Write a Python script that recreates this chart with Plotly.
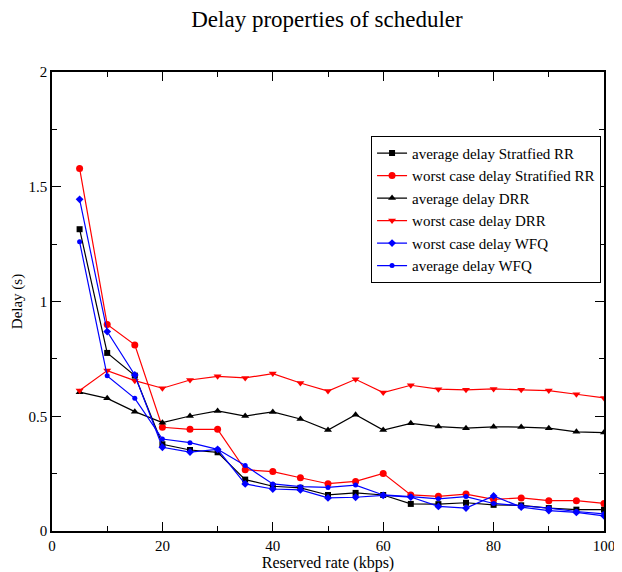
import plotly.graph_objects as go

rate = [5, 10, 15, 20, 25, 30, 35, 40, 45, 50, 55, 60, 65, 70, 75, 80, 85, 90, 95, 100]

avg_srr = [1.315, 0.776, 0.677, 0.378, 0.353, 0.343, 0.224, 0.195, 0.188, 0.157, 0.166, 0.157,
           0.118, 0.117, 0.123, 0.114, 0.112, 0.100, 0.093, 0.093]
worst_srr = [1.58, 0.90, 0.811, 0.452, 0.443, 0.443, 0.267, 0.259, 0.232, 0.206, 0.216, 0.251,
             0.157, 0.151, 0.161, 0.138, 0.144, 0.132, 0.132, 0.120]
avg_drr = [0.605, 0.578, 0.520, 0.472, 0.501, 0.523, 0.501, 0.519, 0.488, 0.440, 0.507, 0.440,
           0.469, 0.455, 0.448, 0.454, 0.453, 0.448, 0.432, 0.429]
worst_drr = [0.612, 0.699, 0.655, 0.622, 0.658, 0.674, 0.667, 0.686, 0.645, 0.610, 0.661, 0.603,
             0.635, 0.618, 0.615, 0.619, 0.615, 0.612, 0.596, 0.580]
worst_wfq = [1.445, 0.869, 0.680, 0.365, 0.344, 0.356, 0.205, 0.183, 0.179, 0.144, 0.147, 0.155,
             0.148, 0.107, 0.100, 0.153, 0.104, 0.089, 0.081, 0.066]
avg_wfq = [1.26, 0.676, 0.578, 0.401, 0.385, 0.356, 0.285, 0.205, 0.193, 0.190, 0.200, 0.157,
           0.150, 0.140, 0.150, 0.120, 0.110, 0.100, 0.085, 0.075]

names = ["average delay Stratfied RR", "worst case delay Stratified RR", "average delay DRR",
         "worst case delay DRR", "worst case delay WFQ", "average delay WFQ"]

series = [avg_srr, worst_srr, avg_drr, worst_drr, worst_wfq, avg_wfq]
colors = ["black", "red", "black", "red", "blue", "blue"]
symbols = ["square", "circle", "triangle-up", "triangle-down", "diamond", "circle"]
sizes = [6, 7, 7, 7, 6, 5]

fig = go.Figure()
for name, ys, c, s, sz in zip(names, series, colors, symbols, sizes):
    fig.add_trace(go.Scatter(
        x=rate, y=ys, mode="lines+markers", name=name,
        line=dict(color=c, width=1.2),
        marker=dict(color=c, symbol=s, size=sz, line=dict(width=0)),
    ))

serif = "Liberation Serif, Times New Roman, serif"

# the page body has an 8px margin, so the figure is drawn 8px in from the corner
fig.update_layout(
    width=614, height=564,
    margin=dict(l=44, r=18, t=64, b=41, autoexpand=False),
    paper_bgcolor="white", plot_bgcolor="white",
    font=dict(family=serif, size=15, color="black"),
    title=dict(text="Delay properties of scheduler", x=0.5195, xanchor="center",
               y=0.995, yanchor="top", automargin=False,
               font=dict(family=serif, size=23, color="black")),
    legend=dict(x=0.578, y=0.861, xanchor="left", yanchor="top",
                bordercolor="black", borderwidth=1, bgcolor="white",
                font=dict(family=serif, size=15), tracegroupgap=0, itemwidth=30),
    showlegend=True,
)

fig.update_xaxes(
    range=[0, 100], tick0=0, dtick=20, showgrid=False, zeroline=False, automargin=False,
    showline=True, linecolor="black", linewidth=1.5, mirror="allticks",
    ticks="inside", ticklen=9, tickwidth=1, tickcolor="black",
    minor=dict(ticks="inside", dtick=10, ticklen=5, tickcolor="black", showgrid=False),
    title=dict(text="Reserved rate (kbps)", font=dict(family=serif, size=16), standoff=2),
    tickfont=dict(family=serif, size=15),
)
fig.update_yaxes(
    range=[0, 2], tick0=0, dtick=0.5, showgrid=False, zeroline=False, automargin=False,
    showline=True, linecolor="black", linewidth=1.5, mirror="allticks",
    ticks="inside", ticklen=9, tickwidth=1, tickcolor="black",
    minor=dict(ticks="inside", dtick=0.25, ticklen=5, tickcolor="black", showgrid=False),
    title=dict(text="Delay (s)", font=dict(family=serif, size=15), standoff=2),
    tickfont=dict(family=serif, size=15),
)

fig.write_html("out.html")
